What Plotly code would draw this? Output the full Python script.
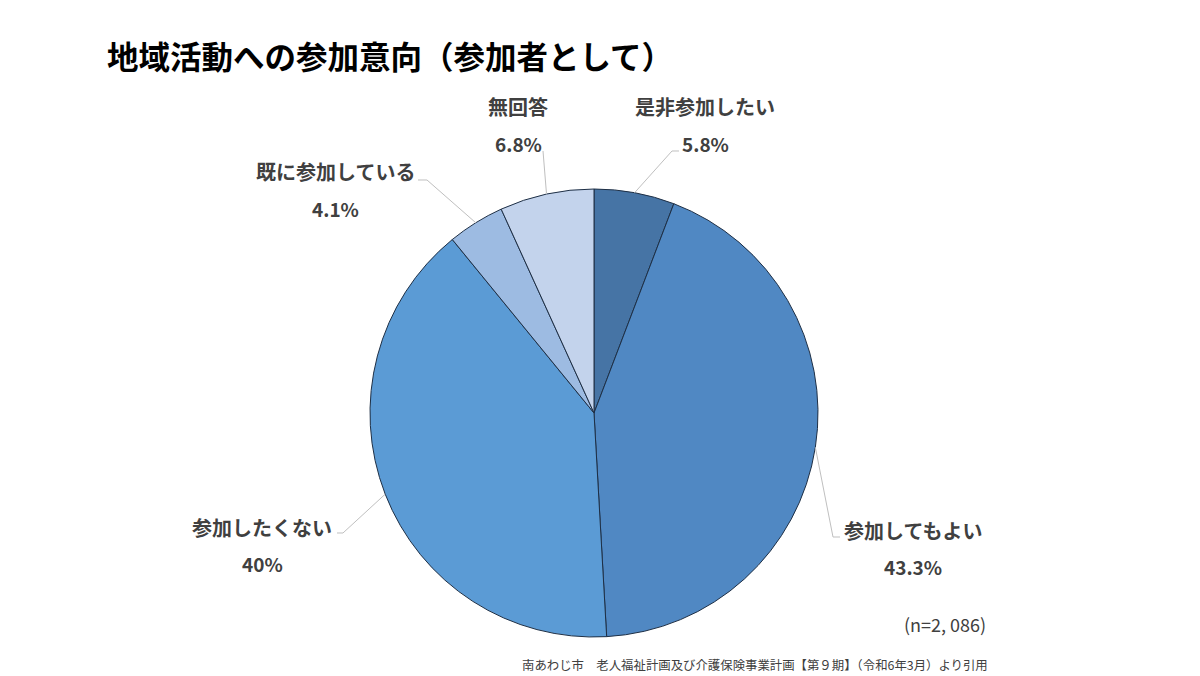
import math
import plotly.graph_objects as go

# ---- data ----
categories = ["是非参加したい", "参加してもよい", "参加したくない", "既に参加している", "無回答"]
values = [5.8, 43.3, 40.0, 4.1, 6.8]
pct_labels = ["5.8%", "43.3%", "40%", "4.1%", "6.8%"]
colors = ["#4674a5", "#5088c3", "#5b9bd5", "#9dbbe2", "#c3d3ec"]

title_text = "地域活動への参加意向（参加者として）"
n_text = "(n=2, 086)"
source_text = "南あわじ市　老人福祉計画及び介護保険事業計画【第９期】（令和6年3月）より引用"

W, H = 1200, 676
FONT = "Noto Sans CJK JP"

# pie geometry in pixels
CX, CY, R = 594, 413, 224

def px(x):
    return x / W

def py(y):
    return 1 - y / H

# label layout (pixel centers) and leader-line elbows
label_pos = {
    "是非参加したい": (705, 107),
    "参加してもよい": (913, 530),
    "参加したくない": (262, 527),
    "既に参加している": (335, 172),
    "無回答": (518, 107),
}
elbows = {
    "是非参加したい": [(672, 151), (679, 151)],
    "参加してもよい": [(833, 537), (840, 537)],
    "参加したくない": [(343, 533), (337, 533)],
    "既に参加している": [(427, 180), (418, 180)],
    "無回答": [(543, 151)],
}

fig = go.Figure(go.Pie(
    labels=categories,
    values=values,
    sort=False,
    direction="clockwise",
    rotation=0,
    marker=dict(colors=colors, line=dict(color="#1e2f45", width=1)),
    textinfo="none",
    hoverinfo="label+percent",
    showlegend=False,
    domain=dict(x=[px(CX - R), px(CX + R)], y=[py(CY + R), py(CY - R)]),
))

annotations = []
shapes = []
total = sum(values)
cum = 0.0
for cat, v, pl in zip(categories, values, pct_labels):
    mid = (cum + v / 2) / total * 2 * math.pi
    cum += v
    sx = CX + R * math.sin(mid)
    sy = CY - R * math.cos(mid)
    pts = [(sx, sy)] + elbows[cat]
    path = "M " + " L ".join(f"{px(x):.5f},{py(y):.5f}" for x, y in pts)
    shapes.append(dict(type="path", xref="paper", yref="paper", path=path,
                       line=dict(color="#bfbfbf", width=1)))
    lx, ly = label_pos[cat]
    annotations.append(dict(x=px(lx), y=py(ly), xref="paper", yref="paper",
                            text=f"<b>{cat}</b>", showarrow=False,
                            font=dict(family=FONT, size=20, color="#404040"),
                            xanchor="center", yanchor="middle"))
    annotations.append(dict(x=px(lx), y=py(ly + 36), xref="paper", yref="paper",
                            text=f"<b>{pl}</b>", showarrow=False,
                            font=dict(family=FONT, size=19, color="#404040"),
                            xanchor="center", yanchor="middle"))

annotations.append(dict(x=px(105), y=py(55), xref="paper", yref="paper",
                        text=f"<b>{title_text}</b>", showarrow=False,
                        font=dict(family=FONT, size=31.5, color="#000000"),
                        xanchor="left", yanchor="middle"))
annotations.append(dict(x=px(988), y=py(624), xref="paper", yref="paper",
                        text=n_text, showarrow=False,
                        font=dict(family=FONT, size=18, color="#404040"),
                        xanchor="right", yanchor="middle"))
annotations.append(dict(x=px(990), y=py(665), xref="paper", yref="paper",
                        text=source_text, showarrow=False,
                        font=dict(family=FONT, size=12.4, color="#404040"),
                        xanchor="right", yanchor="middle"))

fig.update_layout(
    width=W, height=H,
    margin=dict(l=0, r=0, t=0, b=0),
    paper_bgcolor="white",
    plot_bgcolor="white",
    annotations=annotations,
    shapes=shapes,
)

fig.write_html("out.html", config={"displayModeBar": False},
               post_script="document.body.style.margin='0';document.body.style.overflow='hidden';")
